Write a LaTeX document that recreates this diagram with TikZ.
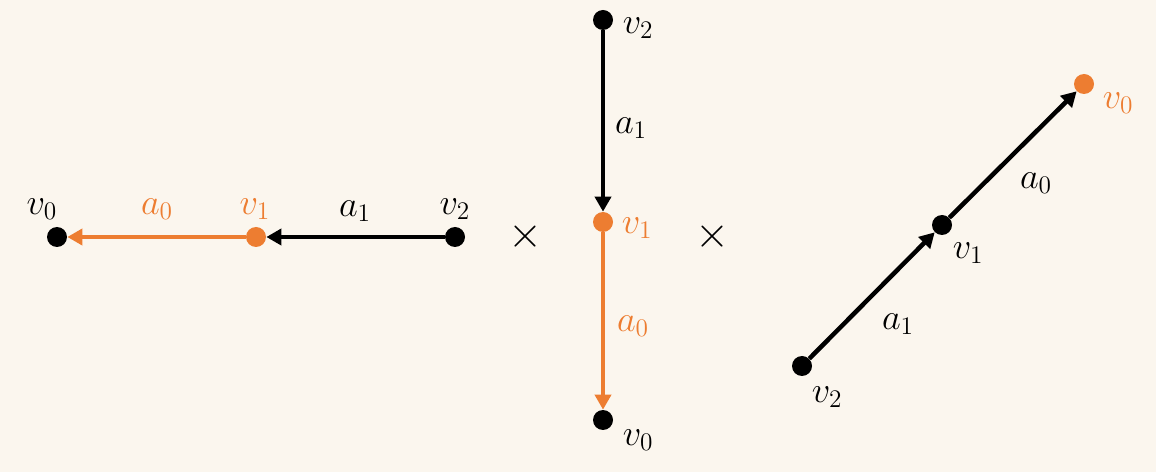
\documentclass[tikz,border=0pt]{standalone}
\usetikzlibrary{positioning, arrows.meta}
\definecolor{Cream}{HTML}{FBF6EE}
\definecolor{PathOrange}{HTML}{ED7D31}

\begin{document}
\begin{tikzpicture}[
  x=0.02cm, y=-0.02cm,
  vtx/.style={circle, fill=black, minimum size=0.4cm, inner sep=0pt},
  vtxo/.style={vtx, fill=PathOrange},
  lbl/.style={font=\fontsize{21}{25}\selectfont, inner sep=1pt},
  lblo/.style={lbl, text=PathOrange},
  cross/.style={font=\fontsize{38}{44}\selectfont, inner sep=0pt},
  arr/.style={-{Triangle[length=0.3cm, width=0.32cm]}, line width=0.09cm, black},
  arro/.style={arr, PathOrange}
]
  \fill[Cream] (0,0) rectangle (1156,472);

  % horizontal path
  \node[vtx]  (h0) at (57,237) {};
  \node[vtxo] (h1) at (256,237) {};
  \node[vtx]  (h2) at (455,237) {};
  \draw[arr]  (h2) -- (h1);
  \draw[arro] (h1) -- (h0);
  \node[lbl]  (hv0) at (42,209) {$v_0$};
  \node[lblo] (ha0) at (157,209) {$a_0$};
  \node[lblo] (hv1) at (255,209) {$v_1$};
  \node[lbl]  (ha1) at (355,211) {$a_1$};
  \node[lbl]  (hv2) at (455,209) {$v_2$};

  \node[cross] (x1) at (525,237) {$\times$};

  % vertical path
  \node[vtx]  (c2) at (603,20) {};
  \node[vtxo] (c1) at (603,222) {};
  \node[vtx]  (c0) at (603,420) {};
  \draw[arr]  (c2) -- (c1);
  \draw[arro] (c1) -- (c0);
  \node[lbl]  (cv2) at (638,28) {$v_2$};
  \node[lbl]  (ca1) at (631,128) {$a_1$};
  \node[lblo] (cv1) at (637,228) {$v_1$};
  \node[lblo] (ca0) at (633,326) {$a_0$};
  \node[lbl]  (cv0) at (638,440) {$v_0$};

  \node[cross] (x2) at (712,237) {$\times$};

  % diagonal path
  \node[vtx]  (d2) at (802,366) {};
  \node[vtx]  (d1) at (942,225) {};
  \node[vtxo] (d0) at (1084,84) {};
  \draw[arr]  (d2) -- (d1);
  \draw[arr]  (d1) -- (d0);
  \node[lbl]  (dv2) at (827,397) {$v_2$};
  \node[lbl]  (da1) at (898,324) {$a_1$};
  \node[lbl]  (dv1) at (968,253) {$v_1$};
  \node[lbl]  (da0) at (1036,183) {$a_0$};
  \node[lblo] (dv0) at (1118,103) {$v_0$};
\end{tikzpicture}
\end{document}
